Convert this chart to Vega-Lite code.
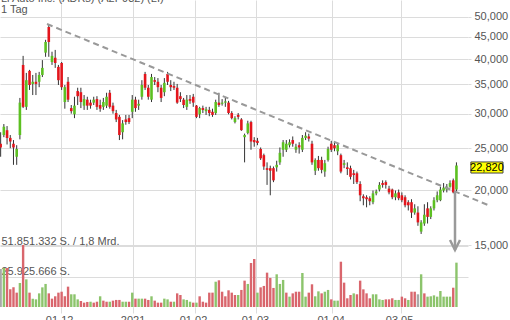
{
  "$schema": "https://vega.github.io/schema/vega-lite/v6.json",
  "width": 468,
  "height": 307,
  "autosize": {"type": "none"},
  "padding": {"left": 0, "top": 0, "right": 42, "bottom": 13},
  "background": "white",
  "config": {
    "view": {"stroke": null},
    "font": "Liberation Sans",
    "locale": {"number": {"decimal": ",", "thousands": ".", "grouping": [3], "currency": ["", " €"]}}
  },
  "title": {
    "text": ["Li Auto Inc. (ADRs) (A2P932) (LI)", "1 Tag"],
    "anchor": "start",
    "frame": "group",
    "fontSize": 11,
    "fontWeight": "normal",
    "color": "#555555",
    "lineHeight": 11,
    "offset": -26,
    "baseline": "bottom",
    "dx": 1
  },
  "datasets": {
    "k": [
      {"i":0,"o":25.6,"h":27.2,"l":23.9,"c":25.1,"v":32300000,"vd":"n"},
      {"i":1,"o":26.8,"h":28.4,"l":26.5,"c":28.0,"v":33200000,"vd":"u"},
      {"i":2,"o":27.5,"h":28.1,"l":25.5,"c":26.4,"v":33200000,"vd":"d"},
      {"i":3,"o":26.4,"h":26.8,"l":25.0,"c":25.9,"v":15000000,"vd":"d"},
      {"i":4,"o":25.6,"h":26.1,"l":22.9,"c":25.1,"v":16700000,"vd":"d"},
      {"i":5,"o":23.9,"h":25.4,"l":22.9,"c":24.9,"v":12200000,"vd":"d"},
      {"i":6,"o":26.8,"h":32.6,"l":26.2,"c":31.8,"v":20400000,"vd":"u"},
      {"i":7,"o":38.8,"h":40.7,"l":30.9,"c":31.1,"v":52700000,"vd":"d"},
      {"i":8,"o":31.1,"h":37.2,"l":30.6,"c":35.8,"v":23500000,"vd":"u"},
      {"i":9,"o":37.6,"h":37.8,"l":34.0,"c":34.9,"v":12200000,"vd":"d"},
      {"i":10,"o":35.1,"h":36.8,"l":33.1,"c":35.5,"v":7100000,"vd":"u"},
      {"i":11,"o":35.5,"h":37.2,"l":33.1,"c":35.1,"v":6500000,"vd":"u"},
      {"i":12,"o":35.5,"h":37.4,"l":34.5,"c":36.8,"v":11600000,"vd":"u"},
      {"i":13,"o":36.8,"h":39.8,"l":36.4,"c":38.2,"v":16700000,"vd":"u"},
      {"i":14,"o":41.4,"h":44.3,"l":40.5,"c":43.8,"v":19600000,"vd":"u"},
      {"i":15,"o":47.4,"h":47.9,"l":40.5,"c":43.8,"v":11600000,"vd":"d"},
      {"i":16,"o":39.4,"h":41.6,"l":38.8,"c":40.7,"v":7100000,"vd":"d"},
      {"i":17,"o":40.3,"h":42.0,"l":38.2,"c":39.2,"v":9100000,"vd":"d"},
      {"i":18,"o":38.4,"h":38.8,"l":34.9,"c":35.8,"v":12200000,"vd":"d"},
      {"i":19,"o":39.2,"h":39.4,"l":34.0,"c":34.5,"v":13000000,"vd":"d"},
      {"i":20,"o":31.9,"h":34.9,"l":30.8,"c":34.5,"v":9100000,"vd":"d"},
      {"i":21,"o":35.5,"h":36.4,"l":31.9,"c":32.3,"v":17300000,"vd":"d"},
      {"i":22,"o":30.9,"h":31.4,"l":30.0,"c":30.4,"v":10800000,"vd":"u"},
      {"i":23,"o":29.9,"h":32.8,"l":29.3,"c":31.3,"v":10800000,"vd":"u"},
      {"i":24,"o":33.8,"h":34.4,"l":31.4,"c":32.9,"v":6500000,"vd":"u"},
      {"i":25,"o":33.6,"h":34.4,"l":30.9,"c":31.9,"v":5100000,"vd":"d"},
      {"i":26,"o":31.3,"h":33.1,"l":30.6,"c":32.4,"v":3700000,"vd":"d"},
      {"i":27,"o":32.3,"h":32.8,"l":30.6,"c":31.3,"v":4300000,"vd":"d"},
      {"i":28,"o":31.8,"h":32.3,"l":30.8,"c":31.3,"v":4500000,"vd":"u"},
      {"i":29,"o":31.8,"h":32.8,"l":31.4,"c":32.3,"v":3700000,"vd":"d"},
      {"i":30,"o":32.4,"h":32.9,"l":30.6,"c":31.1,"v":4500000,"vd":"d"},
      {"i":31,"o":31.4,"h":32.3,"l":30.3,"c":30.8,"v":9100000,"vd":"u"},
      {"i":32,"o":31.1,"h":32.6,"l":30.6,"c":31.9,"v":5400000,"vd":"d"},
      {"i":33,"o":31.3,"h":33.5,"l":30.9,"c":32.8,"v":4500000,"vd":"d"},
      {"i":34,"o":33.5,"h":34.0,"l":30.8,"c":31.1,"v":4500000,"vd":"u"},
      {"i":35,"o":31.3,"h":31.8,"l":30.0,"c":30.4,"v":5400000,"vd":"d"},
      {"i":36,"o":30.1,"h":30.6,"l":28.7,"c":29.1,"v":6000000,"vd":"d"},
      {"i":37,"o":29.5,"h":29.8,"l":26.1,"c":26.8,"v":6000000,"vd":"d"},
      {"i":38,"o":27.2,"h":29.0,"l":26.2,"c":28.5,"v":4500000,"vd":"u"},
      {"i":39,"o":29.1,"h":29.8,"l":28.3,"c":28.7,"v":4500000,"vd":"u"},
      {"i":40,"o":29.3,"h":29.8,"l":28.4,"c":28.7,"v":4500000,"vd":"d"},
      {"i":41,"o":30.3,"h":33.1,"l":29.3,"c":32.3,"v":12200000,"vd":"u"},
      {"i":42,"o":32.3,"h":32.8,"l":30.3,"c":30.9,"v":7100000,"vd":"d"},
      {"i":43,"o":31.3,"h":32.3,"l":30.6,"c":31.6,"v":7100000,"vd":"u"},
      {"i":44,"o":32.8,"h":35.8,"l":32.3,"c":34.9,"v":7100000,"vd":"u"},
      {"i":45,"o":37.0,"h":37.4,"l":34.0,"c":34.4,"v":7100000,"vd":"d"},
      {"i":46,"o":34.4,"h":34.9,"l":32.3,"c":32.8,"v":6000000,"vd":"d"},
      {"i":47,"o":32.3,"h":37.0,"l":31.9,"c":36.4,"v":9100000,"vd":"u"},
      {"i":48,"o":35.8,"h":36.4,"l":34.9,"c":35.5,"v":5400000,"vd":"d"},
      {"i":49,"o":35.5,"h":36.2,"l":33.6,"c":34.5,"v":3700000,"vd":"d"},
      {"i":50,"o":34.4,"h":34.9,"l":31.9,"c":32.6,"v":3700000,"vd":"d"},
      {"i":51,"o":33.6,"h":36.2,"l":32.9,"c":35.3,"v":7100000,"vd":"u"},
      {"i":52,"o":37.0,"h":37.4,"l":34.9,"c":35.5,"v":6500000,"vd":"u"},
      {"i":53,"o":34.9,"h":35.8,"l":33.8,"c":34.5,"v":4500000,"vd":"d"},
      {"i":54,"o":34.7,"h":35.5,"l":34.0,"c":34.4,"v":4500000,"vd":"u"},
      {"i":55,"o":34.4,"h":35.1,"l":31.6,"c":31.8,"v":11600000,"vd":"d"},
      {"i":56,"o":32.9,"h":33.6,"l":31.9,"c":32.4,"v":10200000,"vd":"d"},
      {"i":57,"o":32.3,"h":32.6,"l":30.9,"c":31.4,"v":6500000,"vd":"u"},
      {"i":58,"o":31.1,"h":33.1,"l":30.6,"c":32.3,"v":6000000,"vd":"u"},
      {"i":59,"o":32.4,"h":33.1,"l":31.6,"c":32.1,"v":4500000,"vd":"u"},
      {"i":60,"o":32.8,"h":33.3,"l":31.1,"c":31.8,"v":3700000,"vd":"d"},
      {"i":61,"o":31.3,"h":31.4,"l":29.3,"c":29.5,"v":3700000,"vd":"u"},
      {"i":62,"o":29.9,"h":31.1,"l":29.3,"c":30.9,"v":9100000,"vd":"d"},
      {"i":63,"o":30.9,"h":31.3,"l":30.1,"c":30.6,"v":4500000,"vd":"d"},
      {"i":64,"o":30.4,"h":31.1,"l":29.8,"c":30.7,"v":3700000,"vd":"d"},
      {"i":65,"o":30.6,"h":31.1,"l":29.6,"c":30.1,"v":12200000,"vd":"d"},
      {"i":66,"o":30.3,"h":30.8,"l":29.5,"c":29.8,"v":12200000,"vd":"d"},
      {"i":67,"o":30.1,"h":32.3,"l":29.8,"c":31.9,"v":21500000,"vd":"u"},
      {"i":68,"o":31.8,"h":33.5,"l":31.1,"c":31.4,"v":22700000,"vd":"d"},
      {"i":69,"o":31.6,"h":32.4,"l":31.3,"c":31.8,"v":13000000,"vd":"d"},
      {"i":70,"o":31.8,"h":32.6,"l":31.1,"c":32.0,"v":9100000,"vd":"d"},
      {"i":71,"o":31.8,"h":32.1,"l":29.9,"c":30.1,"v":14200000,"vd":"d"},
      {"i":72,"o":30.1,"h":30.4,"l":29.1,"c":29.3,"v":12200000,"vd":"d"},
      {"i":73,"o":28.7,"h":29.6,"l":28.5,"c":29.3,"v":10200000,"vd":"d"},
      {"i":74,"o":29.8,"h":30.1,"l":29.1,"c":29.5,"v":10200000,"vd":"u"},
      {"i":75,"o":29.1,"h":29.3,"l":27.4,"c":27.5,"v":14500000,"vd":"d"},
      {"i":76,"o":26.5,"h":27.0,"l":23.2,"c":26.8,"v":22400000,"vd":"d"},
      {"i":77,"o":27.1,"h":28.9,"l":26.9,"c":28.5,"v":19600000,"vd":"u"},
      {"i":78,"o":28.7,"h":28.9,"l":24.8,"c":25.9,"v":37400000,"vd":"d"},
      {"i":79,"o":26.1,"h":26.5,"l":25.2,"c":25.8,"v":40800000,"vd":"d"},
      {"i":80,"o":26.0,"h":26.4,"l":25.4,"c":25.7,"v":12200000,"vd":"u"},
      {"i":81,"o":24.9,"h":25.1,"l":23.5,"c":23.7,"v":16700000,"vd":"d"},
      {"i":82,"o":24.1,"h":24.3,"l":22.3,"c":22.7,"v":17900000,"vd":"d"},
      {"i":83,"o":22.5,"h":23.2,"l":20.6,"c":22.3,"v":29200000,"vd":"d"},
      {"i":84,"o":22.5,"h":22.8,"l":19.5,"c":22.2,"v":24700000,"vd":"d"},
      {"i":85,"o":22.5,"h":22.7,"l":20.9,"c":21.1,"v":16200000,"vd":"d"},
      {"i":86,"o":22.6,"h":23.4,"l":22.1,"c":22.9,"v":27800000,"vd":"u"},
      {"i":87,"o":23.2,"h":25.1,"l":22.9,"c":24.4,"v":19600000,"vd":"u"},
      {"i":88,"o":24.8,"h":26.1,"l":23.9,"c":25.8,"v":23000000,"vd":"u"},
      {"i":89,"o":24.8,"h":26.1,"l":24.5,"c":25.6,"v":12200000,"vd":"d"},
      {"i":90,"o":25.4,"h":26.2,"l":25.1,"c":25.8,"v":8800000,"vd":"u"},
      {"i":91,"o":26.1,"h":26.6,"l":25.2,"c":25.6,"v":11600000,"vd":"d"},
      {"i":92,"o":24.8,"h":25.6,"l":24.4,"c":25.2,"v":13000000,"vd":"d"},
      {"i":93,"o":25.4,"h":25.8,"l":24.3,"c":25.1,"v":13000000,"vd":"d"},
      {"i":94,"o":24.8,"h":26.8,"l":24.5,"c":26.4,"v":28900000,"vd":"u"},
      {"i":95,"o":26.4,"h":27.2,"l":26.1,"c":26.7,"v":8800000,"vd":"u"},
      {"i":96,"o":26.6,"h":27.0,"l":25.9,"c":26.3,"v":12200000,"vd":"d"},
      {"i":97,"o":25.6,"h":26.0,"l":22.9,"c":23.2,"v":19300000,"vd":"d"},
      {"i":98,"o":22.2,"h":23.7,"l":21.7,"c":23.5,"v":9100000,"vd":"u"},
      {"i":99,"o":23.5,"h":24.0,"l":22.2,"c":22.5,"v":13300000,"vd":"u"},
      {"i":100,"o":23.5,"h":23.9,"l":21.9,"c":22.3,"v":11600000,"vd":"d"},
      {"i":101,"o":22.1,"h":23.5,"l":21.5,"c":23.1,"v":13000000,"vd":"u"},
      {"i":102,"o":23.5,"h":25.2,"l":23.3,"c":24.9,"v":14500000,"vd":"u"},
      {"i":103,"o":25.6,"h":26.0,"l":24.5,"c":24.8,"v":6500000,"vd":"d"},
      {"i":104,"o":25.4,"h":25.8,"l":24.6,"c":25.0,"v":5400000,"vd":"u"},
      {"i":105,"o":24.6,"h":25.6,"l":24.1,"c":25.4,"v":5400000,"vd":"u"},
      {"i":106,"o":24.1,"h":24.3,"l":21.9,"c":22.1,"v":38500000,"vd":"d"},
      {"i":107,"o":22.9,"h":23.5,"l":22.5,"c":23.1,"v":20700000,"vd":"d"},
      {"i":108,"o":22.6,"h":23.2,"l":21.7,"c":22.4,"v":7400000,"vd":"d"},
      {"i":109,"o":22.5,"h":22.8,"l":21.2,"c":21.5,"v":10200000,"vd":"d"},
      {"i":110,"o":21.9,"h":22.3,"l":20.7,"c":21.7,"v":11600000,"vd":"u"},
      {"i":111,"o":21.9,"h":22.1,"l":20.7,"c":20.9,"v":10800000,"vd":"d"},
      {"i":112,"o":20.7,"h":21.0,"l":18.9,"c":19.5,"v":22400000,"vd":"d"},
      {"i":113,"o":19.4,"h":19.6,"l":18.5,"c":19.2,"v":15000000,"vd":"d"},
      {"i":114,"o":19.3,"h":19.5,"l":18.3,"c":19.1,"v":11600000,"vd":"d"},
      {"i":115,"o":19.2,"h":19.4,"l":18.5,"c":18.9,"v":7400000,"vd":"d"},
      {"i":116,"o":18.8,"h":20.0,"l":18.6,"c":19.7,"v":10800000,"vd":"u"},
      {"i":117,"o":19.7,"h":20.1,"l":19.5,"c":19.9,"v":10800000,"vd":"u"},
      {"i":118,"o":20.1,"h":20.9,"l":19.9,"c":20.6,"v":6500000,"vd":"u"},
      {"i":119,"o":20.8,"h":21.1,"l":20.3,"c":20.6,"v":6000000,"vd":"u"},
      {"i":120,"o":20.9,"h":21.1,"l":20.2,"c":20.6,"v":6500000,"vd":"d"},
      {"i":121,"o":20.2,"h":20.5,"l":19.6,"c":19.8,"v":6500000,"vd":"d"},
      {"i":122,"o":20.1,"h":20.2,"l":19.1,"c":19.3,"v":7400000,"vd":"d"},
      {"i":123,"o":19.3,"h":20.0,"l":19.0,"c":19.7,"v":6000000,"vd":"u"},
      {"i":124,"o":19.8,"h":20.1,"l":19.0,"c":19.2,"v":6000000,"vd":"u"},
      {"i":125,"o":19.5,"h":19.8,"l":18.8,"c":19.0,"v":8800000,"vd":"d"},
      {"i":126,"o":19.3,"h":19.5,"l":18.3,"c":18.5,"v":7400000,"vd":"d"},
      {"i":127,"o":18.8,"h":19.0,"l":18.0,"c":18.5,"v":6000000,"vd":"u"},
      {"i":128,"o":18.8,"h":19.1,"l":17.3,"c":17.8,"v":13000000,"vd":"d"},
      {"i":129,"o":17.8,"h":18.6,"l":17.6,"c":18.2,"v":13000000,"vd":"d"},
      {"i":130,"o":17.8,"h":18.4,"l":16.6,"c":16.9,"v":10800000,"vd":"n"},
      {"i":131,"o":16.1,"h":17.1,"l":15.9,"c":16.9,"v":27800000,"vd":"u"},
      {"i":132,"o":16.8,"h":18.6,"l":16.6,"c":17.6,"v":11600000,"vd":"d"},
      {"i":133,"o":18.2,"h":18.8,"l":16.8,"c":17.4,"v":8800000,"vd":"u"},
      {"i":134,"o":17.4,"h":18.4,"l":17.2,"c":18.2,"v":9100000,"vd":"u"},
      {"i":135,"o":18.2,"h":19.3,"l":18.0,"c":19.0,"v":9900000,"vd":"u"},
      {"i":136,"o":19.0,"h":19.9,"l":18.8,"c":19.5,"v":8800000,"vd":"u"},
      {"i":137,"o":19.0,"h":20.4,"l":18.9,"c":20.1,"v":13600000,"vd":"u"},
      {"i":138,"o":20.0,"h":20.8,"l":19.8,"c":20.3,"v":8800000,"vd":"u"},
      {"i":139,"o":20.1,"h":20.7,"l":19.8,"c":20.4,"v":8800000,"vd":"u"},
      {"i":140,"o":20.4,"h":21.1,"l":20.3,"c":20.8,"v":8800000,"vd":"u"},
      {"i":141,"o":21.1,"h":21.3,"l":19.7,"c":19.8,"v":16400000,"vd":"d"},
      {"i":142,"o":20.1,"h":23.2,"l":19.9,"c":22.82,"v":37700000,"vd":"u"}
    ],
    "trend": [
      {"i": 14.44, "p": 48.16},
      {"i": 151.8, "p": 18.53}
    ]
  },
  "data": {"name": "k"},
  "encoding": {
    "x": {
      "field": "i",
      "type": "quantitative",
      "title": null,
      "scale": {"domain": [-0.2, 145.6], "nice": false, "zero": false, "padding": 0},
      "axis": {
        "values": [18.7, 41.1, 60.4, 79.7, 103.3, 124.6],
        "labelExpr": "datum.value < 30 ? '01.12.' : datum.value < 50 ? '2021' : datum.value < 70 ? '01.02.' : datum.value < 90 ? '01.03.' : datum.value < 115 ? '01.04.' : '03.05.'",
        "grid": true,
        "gridColor": "#dcdcdc",
        "tickSize": 6,
        "tickColor": "#dcdcdc",
        "domain": false,
        "labelPadding": 1,
        "labelFontSize": 11,
        "labelColor": "#555555",
        "labelFlush": false,
        "labelOverlap": false
      }
    }
  },
  "layer": [
    {
      "mark": {"type": "bar", "size": 2.4},
      "encoding": {
        "y": {
          "field": "v",
          "type": "quantitative",
          "title": null,
          "scale": {"domain": [0, 260956754], "nice": false, "zero": true},
          "axis": {
            "orient": "left",
            "values": [25925666, 51851332],
            "labelExpr": "datum.value > 40000000 ? '51.851.332 S. / 1,8 Mrd.' : '25.925.666 S.'",
            "grid": true,
            "gridColor": "#dcdcdc",
            "ticks": true,
            "tickSize": 0,
            "tickOpacity": 0,
            "domain": false,
            "labelAlign": "left",
            "labelBaseline": "bottom",
            "labelPadding": -1,
            "labelFontSize": 11,
            "labelColor": "#555555",
            "labelFlush": false,
            "labelOverlap": false
          }
        },
        "color": {
          "field": "vd",
          "type": "nominal",
          "scale": {"domain": ["u", "d", "n"], "range": ["#8cc46c", "#d9666d", "#a8a8a8"]},
          "legend": null
        }
      }
    },
    {
      "encoding": {
        "y": {
          "field": "l",
          "type": "quantitative",
          "title": null,
          "scale": {"type": "log", "domain": [10.814, 54.66], "nice": false},
          "axis": {
            "orient": "right",
            "values": [15, 20, 25, 30, 35, 40, 45, 50],
            "format": ",.3f",
            "grid": true,
            "gridColor": "#dcdcdc",
            "tickSize": 3,
            "tickColor": "#dcdcdc",
            "domain": false,
            "labelPadding": 3,
            "labelFontSize": 11,
            "labelColor": "#555555",
            "labelFlush": false,
            "labelOverlap": false
          }
        }
      },
      "layer": [
        {
          "mark": {"type": "rule", "color": "#333333", "strokeWidth": 1},
          "encoding": {
            "y2": {"field": "h"}
          }
        },
        {
          "mark": {"type": "bar", "size": 2.6},
          "encoding": {
            "y": {"field": "o", "type": "quantitative", "title": null},
            "y2": {"field": "c"},
            "color": {"condition": {"test": "datum.c >= datum.o", "value": "#5cc021"}, "value": "#e3151c"}
          }
        },
        {
          "data": {"name": "trend"},
          "mark": {"type": "line", "color": "#999999", "strokeWidth": 2, "strokeDash": [6, 4]},
          "encoding": {
            "y": {"field": "p", "type": "quantitative", "title": null}
          }
        },
        {
          "transform": [{"filter": "datum.i == 142"}],
          "mark": {"type": "rule", "color": "#9a9a9a", "strokeWidth": 2.5},
          "encoding": {
            "x": {"datum": 141.55, "type": "quantitative"},
            "y": {"datum": 19.84, "type": "quantitative"},
            "y2": {"datum": 14.61}
          }
        },
        {
          "transform": [{"filter": "datum.i == 142"}],
          "mark": {"type": "point", "shape": "M-1,-2L0,0L1,-2", "size": 100, "filled": false, "color": "#9a9a9a", "strokeWidth": 2.5, "opacity": 1},
          "encoding": {
            "x": {"datum": 141.55, "type": "quantitative"},
            "y": {"datum": 14.61, "type": "quantitative"}
          }
        },
        {
          "transform": [{"filter": "datum.i == 142"}],
          "mark": {"type": "rect", "fill": "#ffff00", "stroke": "#444444", "strokeWidth": 1},
          "encoding": {
            "x": {"datum": 146.5, "type": "quantitative"},
            "x2": {"datum": 156.5},
            "y": {"datum": 23.25, "type": "quantitative"},
            "y2": {"datum": 21.93}
          }
        },
        {
          "transform": [{"filter": "datum.i == 142"}],
          "mark": {"type": "text", "fontSize": 11, "color": "#000000", "align": "center", "baseline": "middle", "dy": 2},
          "encoding": {
            "x": {"datum": 151.5, "type": "quantitative"},
            "y": {"field": "c", "type": "quantitative", "title": null},
            "text": {"field": "c", "type": "quantitative", "format": ",.3f"}
          }
        }
      ]
    }
  ],
  "resolve": {"scale": {"y": "independent"}, "axis": {"y": "independent"}}
}
